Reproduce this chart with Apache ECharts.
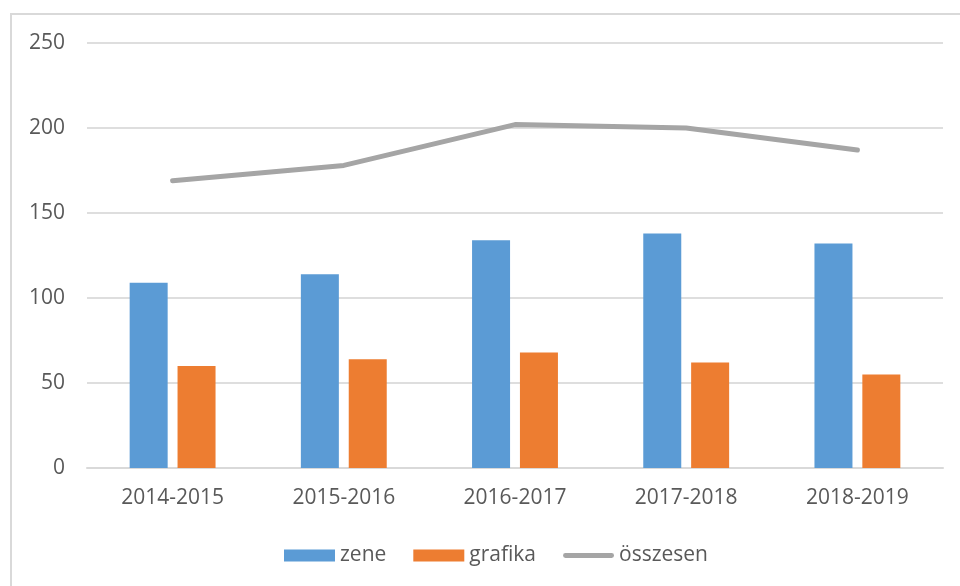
<!DOCTYPE html>
<html>
<head>
<meta charset="utf-8">
<script src="https://cdn.jsdelivr.net/npm/echarts@6/dist/echarts.min.js"></script>
<style>
  html, body { margin: 0; padding: 0; background: #fff; }
  #main { width: 960px; height: 586px; }
</style>
</head>
<body>
<div id="main"></div>
<script>
// adatok
var categories = ["2014-2015", "2015-2016", "2016-2017", "2017-2018", "2018-2019"];
var zene = [109, 114, 134, 138, 132];
var grafika = [60, 64, 68, 62, 55];
var osszesen = [169, 178, 202, 200, 187];
var yTicks = [0, 50, 100, 150, 200, 250];

var font = "'Open Sans', sans-serif";
var textColor = "#595959";
// vastag vonal ikon a jelmagyarazatban
var lineIcon = "path://M2.5,0 L49.5,0 A2.5,2.5 0 0 1 49.5,5 L2.5,5 A2.5,2.5 0 0 1 2.5,0 Z";

var myChart = echarts.init(document.getElementById("main"));

var option = {
  animation: false,
  textStyle: { fontFamily: font },
  graphic: [
    {
      // keret
      type: "rect",
      shape: { x: 11, y: 14, width: 980, height: 620 },
      style: { fill: "none", stroke: "#d9d9d9", lineWidth: 2 },
      silent: true
    }
  ],
  grid: { left: 87, right: 17, top: 43, bottom: 118 },
  legend: {
    left: 279,
    top: 540,
    itemWidth: 51,
    itemHeight: 12,
    itemGap: 27,
    textStyle: { fontFamily: font, fontSize: 21, color: textColor },
    data: [
      { name: "zene", icon: "rect" },
      { name: "grafika", icon: "rect" },
      { name: "összesen", icon: lineIcon, itemStyle: { color: "#a5a5a5" } }
    ]
  },
  xAxis: {
    type: "category",
    data: categories,
    axisLine: { lineStyle: { color: "#d9d9d9", width: 2 } },
    axisTick: { show: false },
    axisLabel: { fontFamily: font, fontSize: 21, color: textColor, margin: 20 }
  },
  yAxis: {
    type: "value",
    min: yTicks[0],
    max: yTicks[yTicks.length - 1],
    interval: 50,
    axisLine: { show: false },
    axisTick: { show: false },
    splitLine: { lineStyle: { color: "#dedede", width: 2 } },
    axisLabel: { fontFamily: font, fontSize: 21, color: textColor, margin: 22 }
  },
  series: [
    {
      name: "zene",
      type: "bar",
      data: zene,
      barWidth: 38,
      barGap: "26%",
      itemStyle: { color: "#5b9bd5" }
    },
    {
      name: "grafika",
      type: "bar",
      data: grafika,
      barWidth: 38,
      itemStyle: { color: "#ed7d31" }
    },
    {
      name: "összesen",
      type: "line",
      data: osszesen,
      symbol: "none",
      lineStyle: { color: "#a5a5a5", width: 5, cap: "round", join: "round" },
      itemStyle: { color: "#a5a5a5" }
    }
  ]
};

myChart.setOption(option);
</script>
</body>
</html>
